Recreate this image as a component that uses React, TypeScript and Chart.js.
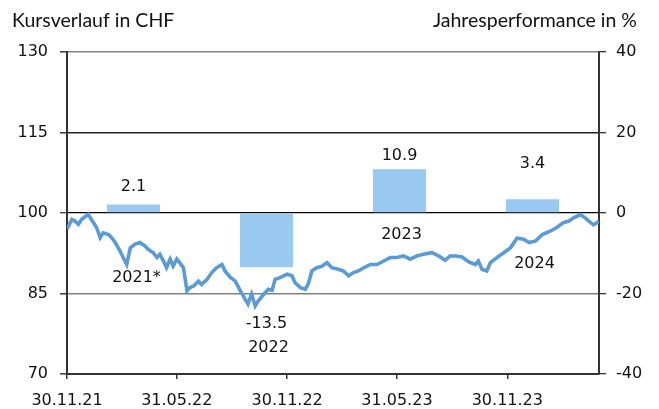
import React, { useEffect, useRef } from "react";
import { Chart, registerables } from "chart.js";

Chart.register(...registerables);

// Annual performance bars (right axis, %)
const barYears = ["2021*", "2022", "2023", "2024"];
const barValues = [2.1, -13.5, 10.9, 3.4];
const barValueLabels = ["2.1", "-13.5", "10.9", "3.4"];

// Price history (left axis, CHF); days since 30.11.21
const days = [
  0, 8, 13, 19, 24, 30, 35, 44, 49, 55, 60, 69, 74, 80, 88, 93, 99, 105, 113, 121,
  129, 135, 143, 149, 154, 160, 165, 171, 176, 182, 187, 193, 199, 204, 210, 218, 223, 232, 240, 248,
  257, 262, 270, 279, 287, 295, 300, 306, 312, 317, 326, 334, 340, 345, 353, 365, 373, 378, 387, 395,
  400, 406, 414, 423, 431, 439, 450, 458, 467, 475, 483, 492, 503, 514, 525, 536, 547, 558, 569, 580,
  591, 605, 616, 627, 635, 645, 655, 666, 677, 682, 688, 696, 702, 713, 724, 735, 746, 757, 766, 777,
  788, 801, 812, 823, 832, 840, 851, 859, 865, 873, 879, 882,
];
const prices = [
  97.0, 98.8, 98.5, 97.9, 98.8, 99.3, 99.75, 98.2, 97.3, 95.4, 96.3, 96.0, 95.4, 94.5, 92.9, 91.7, 90.4, 93.5, 94.2, 94.5,
  93.85, 93.2, 92.6, 91.7, 92.3, 91.05, 89.8, 91.4, 90.1, 91.4, 90.7, 89.8, 85.5, 86.1, 86.4, 87.3, 86.7, 87.6, 88.9, 89.8,
  90.4, 89.2, 88.1, 87.3, 85.6, 84.0, 83.05, 84.9, 82.7, 83.6, 84.85, 85.8, 85.6, 87.65, 87.95, 88.6, 88.3, 87.0, 86.1, 85.8,
  86.8, 89.2, 89.8, 90.1, 90.75, 89.8, 89.5, 89.2, 88.3, 88.9, 89.2, 89.8, 90.4, 90.4, 91.05, 91.7, 91.7, 92.0, 91.4, 92.0,
  92.3, 92.6, 92.0, 91.2, 92.0, 92.0, 91.8, 90.9, 90.4, 91.05, 89.5, 89.2, 90.75, 91.7, 92.6, 93.5, 95.3, 95.1, 94.5, 94.8,
  96.0, 96.6, 97.3, 98.2, 98.5, 99.1, 99.7, 99.1, 98.5, 97.8, 98.2, 98.5,
];

const xTickDays = [0, 182, 365, 547, 730];
const xTickLabels = ["30.11.21", "31.05.22", "30.11.22", "31.05.23", "30.11.23"];
const xMaxDay = 882;

const leftTitle = "Kursverlauf in CHF";
const rightTitle = "Jahresperformance in %";

export default function App() {
  const ref = useRef<HTMLCanvasElement | null>(null);

  useEffect(() => {
    if (!ref.current) return;
    const tickFont = { family: "DejaVu Sans", size: 16 };

    // label placement in right-axis units
    const valueLabelY = [6.5, -27.5, 14.25, 12.25];
    const yearLabelY = [-16, -33.5, -5.4, -12.75];

    const annotate = {
      id: "annotate",
      afterDatasetsDraw(chart: any) {
        const ctx = chart.ctx;
        const xb = chart.scales.xb;
        const y2 = chart.scales.y2;
        ctx.save();
        ctx.fillStyle = "#111";
        ctx.font = "16px 'DejaVu Sans'";
        ctx.textAlign = "center";
        ctx.textBaseline = "middle";
        barYears.forEach((yr, i) => {
          const x = xb.getPixelForValue(i);
          ctx.fillText(barValueLabels[i], x, y2.getPixelForValue(valueLabelY[i]));
          ctx.fillText(yr, x + (yr.endsWith("*") ? 3 : 2), y2.getPixelForValue(yearLabelY[i]));
        });
        ctx.restore();
      },
      afterDraw(chart: any) {
        const ctx = chart.ctx;
        ctx.save();
        ctx.fillStyle = "#111";
        ctx.font = "19.5px Lato";
        ctx.textBaseline = "alphabetic";
        ctx.textAlign = "left";
        ctx.fillText(leftTitle, 12, 27);
        ctx.textAlign = "right";
        ctx.fillText(rightTitle, 637, 27);
        ctx.restore();
      },
    };

    const chart = new Chart(ref.current, {
      type: "bar",
      data: {
        labels: barYears,
        datasets: [
          {
            type: "bar",
            data: barValues,
            xAxisID: "xb",
            yAxisID: "y2",
            backgroundColor: "rgb(153,201,240)",
            grouped: false,
            barPercentage: 0.4,
            categoryPercentage: 1,
            order: 2,
          } as any,
          {
            type: "line",
            data: days.map((d, i) => ({ x: d, y: prices[i] })),
            xAxisID: "x",
            yAxisID: "y",
            borderColor: "rgb(91,155,213)",
            borderWidth: 3.6,
            pointRadius: 0,
            tension: 0,
            fill: false,
            order: 1,
          } as any,
        ],
      },
      options: {
        responsive: false,
        animation: false,
        events: [],
        layout: { padding: { top: 52, left: 0, right: 0, bottom: 0 } },
        plugins: { legend: { display: false }, tooltip: { enabled: false }, title: { display: false } },
        scales: {
          xb: {
            type: "category",
            display: false,
            offset: true,
            position: "bottom",
          },
          x: {
            type: "linear",
            position: "bottom",
            offset: false,
            min: 0,
            max: xMaxDay,
            afterBuildTicks: (scale: any) => {
              scale.ticks = xTickDays.map((v) => ({ value: v }));
            },
            afterFit: (scale: any) => {
              scale.height = 35;
            },
            ticks: {
              autoSkip: false,
              maxRotation: 0,
              font: tickFont,
              color: "#111",
              padding: 12,
              callback: (v: any) => {
                const i = xTickDays.indexOf(Number(v));
                return i >= 0 ? xTickLabels[i] : "";
              },
            },
            grid: {
              offset: false,
              drawOnChartArea: false,
              drawTicks: true,
              tickLength: 5,
              tickColor: "#333",
              lineWidth: 1.5,
            },
            border: { display: true, color: "#333", width: 2 },
          },
          y: {
            type: "linear",
            position: "left",
            min: 70,
            max: 130,
            afterFit: (scale: any) => {
              scale.width = 67;
            },
            ticks: { stepSize: 15, font: tickFont, color: "#111", padding: 12 },
            grid: {
              drawTicks: true,
              tickLength: 7,
              color: (c: any) => {
                const v = c.tick?.value;
                if (v === 100) return "#000";
                if (v === 115) return "#222";
                return "#808080";
              },
              tickColor: "#444",
              lineWidth: (c: any) => (c.tick?.value === 100 ? 1.3 : 1.6),
            },
            border: { display: true, color: "#333", width: 2 },
          },
          y2: {
            type: "linear",
            position: "right",
            min: -40,
            max: 40,
            afterFit: (scale: any) => {
              scale.width = 60;
            },
            ticks: { stepSize: 20, font: tickFont, color: "#111", padding: 10 },
            grid: { drawOnChartArea: false, drawTicks: true, tickLength: 7, tickColor: "#333", lineWidth: 1.3 },
            border: { display: true, color: "#333", width: 2 },
          },
        },
      } as any,
      plugins: [annotate],
    });
    return () => chart.destroy();
  }, []);

  return (
    <div style={{ position: "absolute", left: 0, top: 0, width: 659, height: 409, background: "#fff" }}>
      <canvas ref={ref} width={659} height={409} style={{ width: 659, height: 409, display: "block" }} />
    </div>
  );
}
